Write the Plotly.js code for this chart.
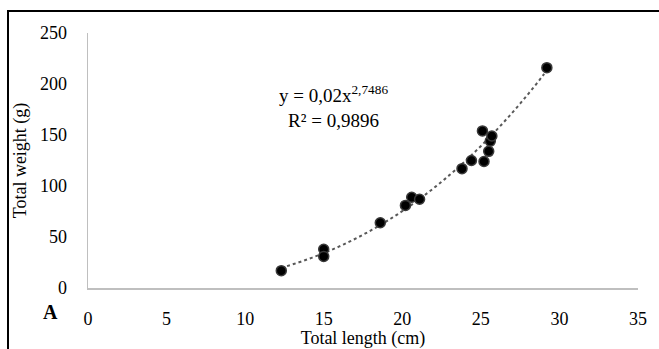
<!DOCTYPE html>
<html>
<head>
<meta charset="utf-8">
<script src="https://cdn.plot.ly/plotly-3.0.1.min.js"></script>
<style>
  html, body { margin: 0; padding: 0; background: #fff; }
  #wrap { position: relative; width: 659px; height: 349px; overflow: hidden; }
  #frame { position: absolute; left: 7px; top: 10px; width: 700px; height: 400px;
           border-left: 2.5px solid #000; border-top: 2.5px solid #000; pointer-events: none; }
</style>
</head>
<body>
<div id="wrap">
  <div id="chart"></div>
  <div id="frame"></div>
</div>
<script>
// Observed fish measurements
const totalLength = [12.3, 15.0, 15.0, 18.6, 20.2, 20.6, 21.1, 23.8, 24.4, 25.2, 25.5, 25.6, 25.7, 25.1, 29.2];
const totalWeight = [17, 38, 31, 64, 81, 89, 87, 117, 125, 124, 134, 144, 149, 154, 216];

// Power trendline shown on the chart: y = a * x^b
const trendA = 0.02;
const trendB = 2.7486;
const trendLabel = 'y = 0,02x<sup>2,7486</sup><br>R² = 0,9896';

const xTicks = [0, 5, 10, 15, 20, 25, 30, 35];
const yTicks = [0, 50, 100, 150, 200, 250];

const xMin = Math.min(...totalLength), xMax = Math.max(...totalLength);
const trendX = [], trendY = [];
for (let i = 0; i <= 60; i++) {
  const x = xMin + (xMax - xMin) * i / 60;
  trendX.push(x);
  trendY.push(trendA * Math.pow(x, trendB));
}

const serif = 'Liberation Serif, Times New Roman, serif';

const traces = [
  {
    x: trendX, y: trendY, mode: 'lines', type: 'scatter',
    line: { color: '#595959', width: 2, dash: 'dot', shape: 'spline' },
    hoverinfo: 'skip'
  },
  {
    x: totalLength, y: totalWeight, mode: 'markers', type: 'scatter',
    marker: { color: '#000', size: 10, line: { color: '#3a3a3a', width: 1.5 } }
  }
];

const layout = {
  width: 659, height: 349,
  margin: { l: 88, r: 21, t: 33, b: 61 },
  paper_bgcolor: '#fff', plot_bgcolor: '#fff',
  showlegend: false,
  font: { family: serif, color: '#000', size: 18 },
  xaxis: {
    range: [0, 35], tickvals: xTicks, ticktext: xTicks.map(String),
    showgrid: false, zeroline: false, showline: true,
    linecolor: '#bfbfbf', linewidth: 1.5, ticks: '',
    ticklabelstandoff: 14,
    tickfont: { family: serif, size: 18, color: '#000' },
    title: { text: 'Total length (cm)', font: { family: serif, size: 18, color: '#000' }, standoff: 5 }
  },
  yaxis: {
    range: [0, 250], tickvals: yTicks, ticktext: yTicks.map(String),
    showgrid: false, zeroline: false, showline: true,
    linecolor: '#bfbfbf', linewidth: 1.5, ticks: '',
    ticklabelstandoff: 16,
    tickfont: { family: serif, size: 18, color: '#000' },
    title: { text: 'Total weight (g)', font: { family: serif, size: 18, color: '#000' }, standoff: 8 }
  },
  annotations: [
    {
      x: 15.6, y: 178, xref: 'x', yref: 'y', text: trendLabel, showarrow: false,
      align: 'center', xanchor: 'center', yanchor: 'middle',
      font: { family: serif, size: 19, color: '#000' }
    },
    {
      x: -0.069, y: -0.094, xref: 'paper', yref: 'paper', text: '<b>A</b>', showarrow: false,
      xanchor: 'center', yanchor: 'middle',
      font: { family: serif, size: 20, color: '#000' }
    }
  ]
};

Plotly.newPlot('chart', traces, layout, { displayModeBar: false, staticPlot: true });
</script>
</body>
</html>
